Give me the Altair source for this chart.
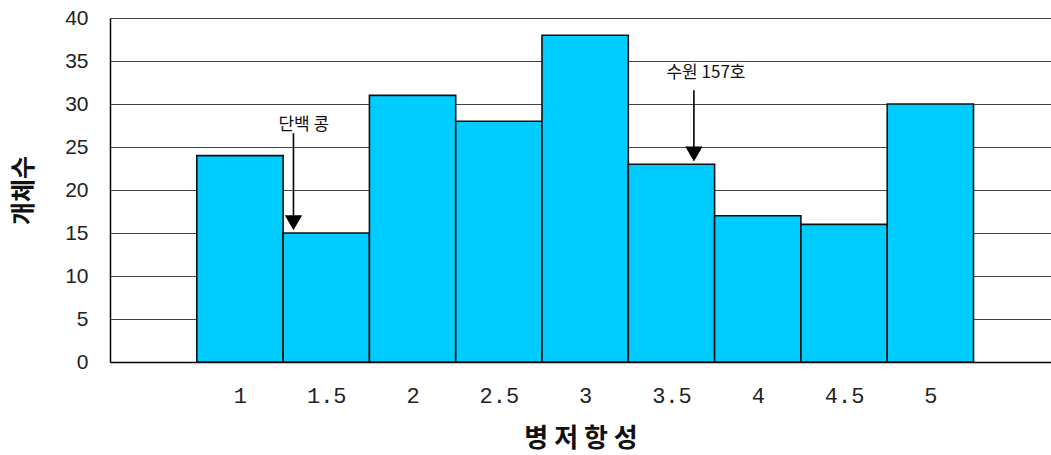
import altair as alt
import pandas as pd

# Disease resistance score classes and the number of lines in each
scores = [1, 1.5, 2, 2.5, 3, 3.5, 4, 4.5, 5]
counts = [24, 15, 31, 28, 38, 23, 17, 16, 30]

# Named varieties marked with arrows: label, arrow x, bar value under the arrow, label position
note_labels = ["단백 콩", "수원 157호"]
note_x = [1.31, 3.63]
note_value = [15, 23]
note_text_x = [1.37, 3.70]
note_text_y = [27.6, 33.6]
note_shaft_top = [26.6, 31.6]

bars = pd.DataFrame({"score": scores, "count": counts})
bars["left"] = bars["score"] - 0.25
bars["right"] = bars["score"] + 0.25
bars["base"] = 0

notes = pd.DataFrame({
    "label": note_labels,
    "x": note_x,
    "value": note_value,
    "tx": note_text_x,
    "ty": note_text_y,
    "top": note_shaft_top,
})
notes["head"] = notes["value"] + 1.2
notes["shaft_end"] = notes["value"] + 2.0

x_scale = alt.Scale(domain=[0.247, 5.699], nice=False, zero=False)
y_scale = alt.Scale(domain=[0, 40], nice=False)

bar_layer = alt.Chart(bars).mark_rect(
    color="#00CCFF", stroke="#111111", strokeWidth=1.6
).encode(
    x=alt.X(
        "left:Q",
        scale=x_scale,
        title="병 저 항 성",
        axis=alt.Axis(
            values=scores,
            labelExpr="datum.value % 1 == 0 ? format(datum.value, 'd') : format(datum.value, '.1f')",
            grid=False,
            ticks=False,
            domainColor="#000000",
            domainWidth=1.5,
            labelFont="Liberation Mono",
            labelFontSize=22,
            labelColor="#222222",
            labelPadding=23,
            titleFont="Noto Sans CJK KR",
            titleFontSize=26,
            titleFontWeight="bold",
            titleColor="#111111",
            titlePadding=19,
        ),
    ),
    x2="right:Q",
    y=alt.Y(
        "count:Q",
        scale=y_scale,
        title="개체수",
        axis=alt.Axis(
            values=[0, 5, 10, 15, 20, 25, 30, 35, 40],
            grid=True,
            gridColor="#444444",
            gridWidth=1,
            ticks=False,
            domainColor="#000000",
            domainWidth=1.5,
            labelFont="Liberation Sans",
            labelFontSize=21,
            labelColor="#222222",
            labelPadding=22,
            titleFont="Noto Sans CJK KR",
            titleFontSize=25,
            titleFontWeight="bold",
            titleColor="#111111",
            titlePadding=28,
        ),
    ),
    y2="base:Q",
)

shafts = alt.Chart(notes).mark_rule(color="#000000", strokeWidth=1.6).encode(
    x=alt.X("x:Q", scale=x_scale),
    y=alt.Y("top:Q", scale=y_scale),
    y2="shaft_end:Q",
)

heads = alt.Chart(notes).mark_point(
    shape="triangle-down", filled=True, color="#000000", size=300, opacity=1
).encode(
    x=alt.X("x:Q", scale=x_scale),
    y=alt.Y("head:Q", scale=y_scale),
)

labels = alt.Chart(notes).mark_text(
    font="Noto Sans CJK KR", fontSize=17, color="#111111", baseline="middle"
).encode(
    x=alt.X("tx:Q", scale=x_scale),
    y=alt.Y("ty:Q", scale=y_scale),
    text="label:N",
)

chart = (
    alt.layer(bar_layer, shafts, heads, labels)
    .properties(
        width=941,
        height=344,
        autosize=alt.AutoSizeParams(type="none"),
        padding={"left": 110, "top": 18, "right": 0, "bottom": 93},
        background="#ffffff",
    )
    .configure_view(stroke=None)
)

chart.save("out.html", embed_options={"renderer": "svg", "actions": False})
